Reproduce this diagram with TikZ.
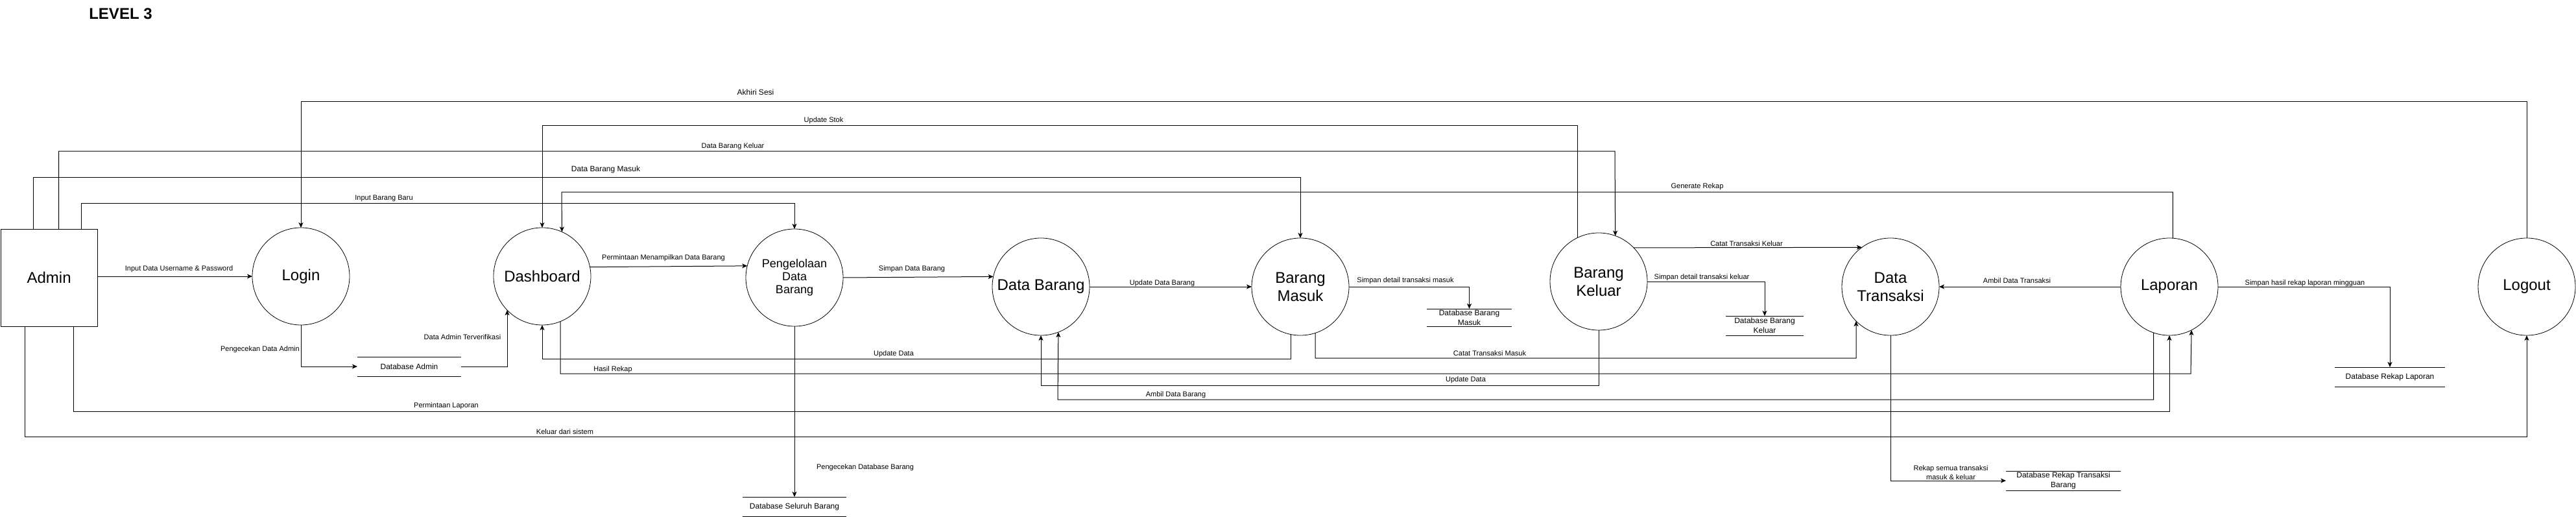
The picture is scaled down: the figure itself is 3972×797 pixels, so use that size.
\documentclass[tikz,border=0pt]{standalone}
\usepackage{fontspec}
\setmainfont{Liberation Sans}
\usetikzlibrary{arrows.meta,calc}
\begin{document}
\begin{tikzpicture}[x=1pt,y=-1pt,
  proc/.style={circle,draw,line width=0.8pt,minimum size=150pt,inner sep=0pt,outer sep=0pt,align=center,font=\fontsize{24}{28}\selectfont},
  ent/.style={rectangle,draw,line width=1pt,minimum width=149pt,minimum height=150pt,inner sep=0pt,outer sep=0pt,font=\fontsize{24}{28}\selectfont},
  store/.style={minimum height=30pt,inner sep=0pt,outer sep=0pt,align=center,font=\fontsize{12}{15}\selectfont},
  storeline/.style={line width=1pt},
  flow/.style={line width=1pt,-{Stealth[length=8pt,width=7pt,inset=2pt]}},
  lbl/.style={inner sep=0pt,align=center,font=\fontsize{11}{14}\selectfont},
  lblb/.style={inner sep=0pt,align=center,font=\fontsize{12}{14}\selectfont},
]
\useasboundingbox (0,0) rectangle (3972,797);

% title
\node[inner sep=0pt,font=\fontsize{24}{28}\selectfont\bfseries] (title) at (186,21) {LEVEL 3};

% external entity
\node[ent] (admin) at (75.6,428) {Admin};

% processes
\node[proc] (login) at (464,426) {Login};
\node[proc] (dash) at (836,426) {Dashboard};
\node[proc,font=\fontsize{18}{20}\selectfont] (peng) at (1225,428) {Pengelolaan\\Data\\Barang};
\node[proc] (databarang) at (1605,442) {Data Barang};
\node[proc] (bmasuk) at (2005,442) {Barang\\Masuk};
\node[proc] (bkeluar) at (2465,434) {Barang\\Keluar};
\node[proc] (dtrans) at (2915,442) {Data\\Transaksi};
\node[proc] (laporan) at (3345,442) {Laporan};
\node[proc] (logout) at (3896,442) {Logout};

% data stores
\node[store,minimum width=160pt] (dbadmin) at (631,565) {Database Admin};
\node[store,minimum width=160pt] (dbseluruh) at (1225,781) {Database Seluruh Barang};
\node[store,minimum width=131pt,minimum height=27pt] (dbmasuk) at (2265.5,489.5) {Database Barang\\Masuk};
\node[store,minimum width=120pt] (dbkeluar) at (2721,502) {Database Barang\\Keluar};
\node[store,minimum width=177pt] (dbrekaptrans) at (3181.5,741) {Database Rekap Transaksi\\Barang};
\node[store,minimum width=170pt] (dbrekaplap) at (3685,581) {Database Rekap Laporan};
\foreach \s in {dbadmin,dbseluruh,dbmasuk,dbkeluar,dbrekaptrans,dbrekaplap}{
  \draw[storeline] (\s.north west) -- (\s.north east);
  \draw[storeline] (\s.south west) -- (\s.south east);
}

% waypoints
\coordinate (w9) at (836,553);
\coordinate (w10) at (3378,576);
\coordinate (w11) at (866,296);
\coordinate (w12) at (836,193);
\coordinate (w13) at (2490,233);
\coordinate (w14) at (2005,273);
\coordinate (w15) at (1225,313);
\coordinate (w16) at (464,156);
\coordinate (w17) at (3345,634);
\coordinate (w18) at (3896,673);
\coordinate (w19) at (1605,594);
\coordinate (w20) at (1631,616);
\coordinate (w21) at (2862,552);

% connectors
\draw[flow] (admin.east |- login.center) -- (login.west);
\draw[flow] (login.south) |- (dbadmin.west);
\draw[flow] (dbadmin.east) -| (dash.-136.05);
\draw[flow] (dash.11.54) -- (peng.166.9);
\draw[flow] (peng.east) -- (databarang.168.46);
\draw[flow] (peng.south) -- (dbseluruh.north);
\draw[flow] (databarang.east) -- (bmasuk.west);
\draw[flow] (bmasuk.east) -| (dbmasuk.north);
\draw[flow] (bmasuk.-101.54) |- (w9) -- (dash.south);
\draw[flow] (dash.-68.9) |- (w10) -- (laporan.-63.9);
\draw[flow] (laporan.86.18) |- (w11) -- (dash.66.42);
\draw[flow] (bkeluar.116.96) |- (w12) -- (dash.north);
\draw[flow] ($(admin.north west)!0.6!(admin.north east)$) |- (w13) -- (bkeluar.70.53);
\draw[flow] ($(admin.north west)!0.338!(admin.north east)$) |- (w14) -- (bmasuk.north);
\draw[flow] ($(admin.north west)!0.835!(admin.north east)$) |- (w15) -- (peng.north);
\draw[flow] (logout.north) |- (w16) -- (login.north);
\draw[flow] ($(admin.south west)!0.755!(admin.south east)$) |- (w17) -- (laporan.south);
\draw[flow] ($(admin.south west)!0.251!(admin.south east)$) |- (w18) -- (logout.south);
\draw[flow] (bkeluar.south) |- (w19) -- (databarang.south);
\draw[flow] (laporan.-109.47) |- (w20) -- (databarang.-69.7);
\draw[flow] (bmasuk.-72.14) |- (w21) -- (dtrans.-135);
\draw[flow] (bkeluar.44.45) -- (dtrans.126.87);
\draw[flow] (bkeluar.east) -| (dbkeluar.north);
\draw[flow] (laporan.west) -- (dtrans.east);
\draw[flow] (dtrans.south) |- (dbrekaptrans.west);
\draw[flow] (laporan.east) -| (dbrekaplap.north);

% labels
\node[lbl] (l1) at (276,415) {Input Data Username \& Password};
\node[lbl,anchor=east] (l2) at (462,539) {Pengecekan Data Admin};
\node[lbl] (l3) at (713,520) {Data Admin Terverifikasi};
\node[lbl] (l4) at (1023,398) {Permintaan Menampilkan Data Barang};
\node[lbl] (l5) at (1406,415) {Simpan Data Barang};
\node[lbl] (l6) at (1334,721) {Pengecekan Database Barang};
\node[lbl] (l7) at (1792,437) {Update Data Barang};
\node[lbl] (l8) at (2167,433) {Simpan detail transaksi masuk};
\node[lbl] (l9) at (1378,546) {Update Data};
\node[lbl] (l10) at (945,570) {Hasil Rekap};
\node[lbl] (l11) at (2617,288) {Generate Rekap};
\node[lbl] (l12) at (1270,186) {Update Stok};
\node[lbl] (l13) at (1130,226) {Data Barang Keluar};
\node[lblb] (l14) at (934,261) {Data Barang Masuk};
\node[lbl] (l15) at (592,306) {Input Barang Baru};
\node[lblb] (l16) at (1165,142) {Akhiri Sesi};
\node[lbl] (l17) at (688,626) {Permintaan Laporan};
\node[lbl] (l18) at (871,666) {Keluar dari sistem};
\node[lbl] (l19) at (2260,586) {Update Data};
\node[lbl] (l20) at (1813,609) {Ambil Data Barang};
\node[lbl] (l21) at (2297,545) {Catat Transaksi Masuk};
\node[lbl] (l22) at (2693,376) {Catat Transaksi Keluar};
\node[lbl] (l23) at (2624,428) {Simpan detail transaksi keluar};
\node[lbl] (l24) at (3110,433) {Ambil Data Transaksi};
\node[lbl] (l25) at (3008,729) {Rekap semua transaksi\\masuk \& keluar};
\node[lbl] (l26) at (3554,437) {Simpan hasil rekap laporan mingguan};
\end{tikzpicture}
\end{document}
